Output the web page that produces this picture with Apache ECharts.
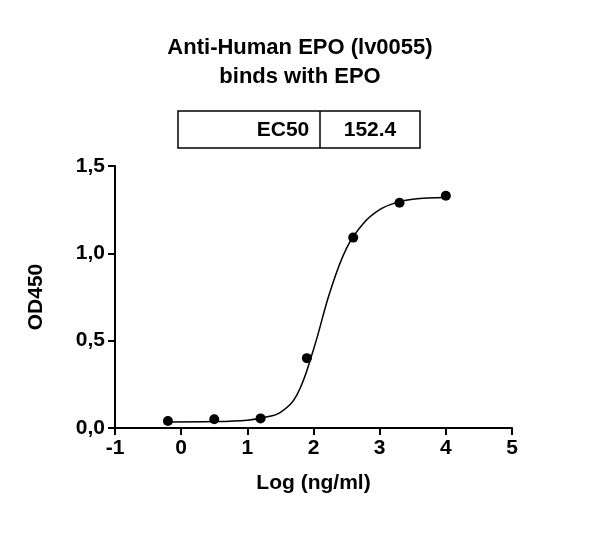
<!DOCTYPE html>
<html><head><meta charset="utf-8">
<script src="https://cdn.jsdelivr.net/npm/echarts@6/dist/echarts.min.js"></script>
<style>html,body{margin:0;background:#fff}#main{width:600px;height:541px}</style>
</head><body><div id="main"></div>
<script>
const pointX = [-0.2, 0.5, 1.2, 1.9, 2.6, 3.3, 4.0];
const pointY = [0.04, 0.05, 0.055, 0.40, 1.09, 1.29, 1.33];
const curveX = [-0.2, 0.5, 1.0, 1.25, 1.5, 1.75, 2.0, 2.25, 2.5, 2.75, 3.0, 3.25, 3.5, 4.0];
const curveY = [0.035, 0.037, 0.045, 0.06, 0.09, 0.19, 0.45, 0.78, 1.03, 1.17, 1.25, 1.29, 1.31, 1.32];
const ec50Label = 'EC50';
const ec50Value = '152.4';

const chart = echarts.init(document.getElementById('main'));
const font = 'Liberation Sans, Arial, sans-serif';

chart.setOption({
  animation: false,
  title: {
    text: 'Anti-Human EPO (lv0055)\nbinds with EPO',
    left: 'center', top: 28,
    textStyle: { fontFamily: font, fontWeight: 'bold', fontSize: 22, lineHeight: 29, color: '#000' }
  },
  graphic: [
    { type: 'rect', shape: { x: 178, y: 111, width: 242, height: 37 }, style: { fill: '#fff', stroke: '#000', lineWidth: 1.5 } },
    { type: 'line', shape: { x1: 320, y1: 111, x2: 320, y2: 148 }, style: { stroke: '#000', lineWidth: 1.5 } },
    { type: 'text', x: 283, y: 130, style: { text: ec50Label, font: 'bold 21px ' + font, fill: '#000', align: 'center', verticalAlign: 'middle' } },
    { type: 'text', x: 370, y: 130, style: { text: ec50Value, font: 'bold 21px ' + font, fill: '#000', align: 'center', verticalAlign: 'middle' } }
  ],
  grid: { left: 115, right: 88, top: 166, bottom: 113 },
  xAxis: {
    type: 'value', min: -1, max: 5, interval: 1,
    name: 'Log (ng/ml)', nameLocation: 'middle', nameGap: 45,
    nameTextStyle: { fontFamily: font, fontWeight: 'bold', fontSize: 21, color: '#000' },
    axisLine: { onZero: false, lineStyle: { color: '#000', width: 2 } },
    axisTick: { show: true, length: 7, lineStyle: { color: '#000', width: 2 } },
    axisLabel: { fontFamily: font, fontWeight: 'bold', fontSize: 21, color: '#000', margin: 10 },
    splitLine: { show: false }
  },
  yAxis: {
    type: 'value', min: 0, max: 1.5, interval: 0.5,
    name: 'OD450', nameLocation: 'middle', nameGap: 68,
    nameTextStyle: { fontFamily: font, fontWeight: 'bold', fontSize: 21, color: '#000' },
    axisLine: { show: true, onZero: false, lineStyle: { color: '#000', width: 2 } },
    axisTick: { show: true, length: 7, lineStyle: { color: '#000', width: 2 } },
    axisLabel: { fontFamily: font, fontWeight: 'bold', fontSize: 21, color: '#000', margin: 10,
      formatter: v => v.toFixed(1).replace('.', ',') },
    splitLine: { show: false }
  },
  series: [
    { type: 'line', smooth: 0.4, symbol: 'none', data: curveX.map((x, i) => [x, curveY[i]]),
      lineStyle: { color: '#000', width: 1.5 } },
    { type: 'scatter', symbolSize: 10, data: pointX.map((x, i) => [x, pointY[i]]),
      itemStyle: { color: '#000', opacity: 1 } }
  ]
});
</script></body></html>
